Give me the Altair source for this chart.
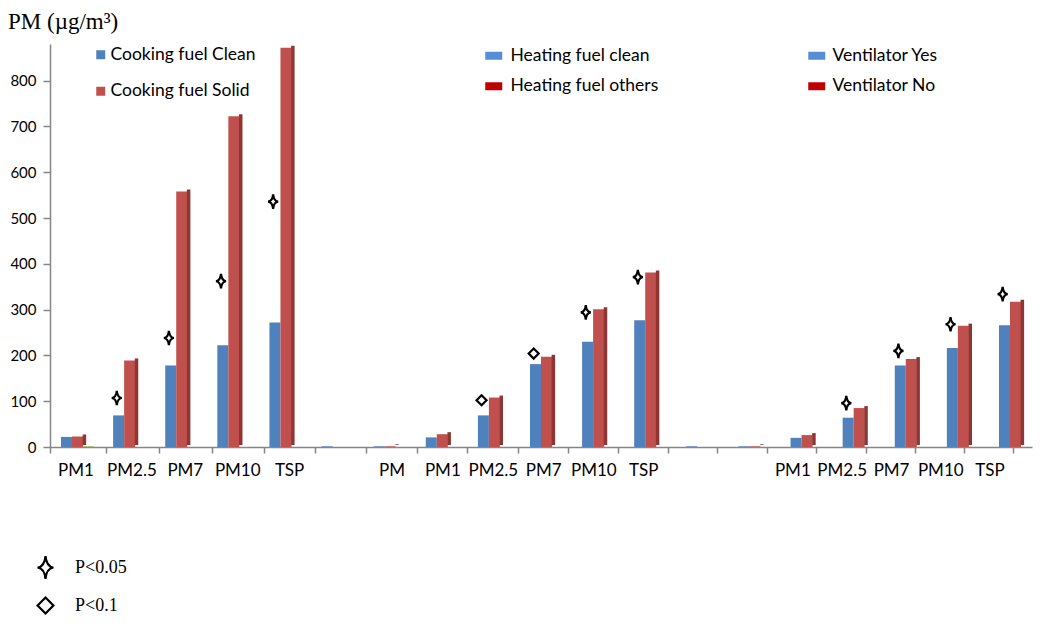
import altair as alt
import pandas as pd

# ---------------- data ----------------
slot_labels = ["PM1", "PM2.5", "PM7", "PM10", "TSP", "", "PM", "PM1", "PM2.5", "PM7",
               "PM10", "TSP", "", "", "PM1", "PM2.5", "PM7", "PM10", "TSP"]
blue_values = [22, 69, 178, 222, 272, 1.5, 1.5, 21, 69, 181,
               230, 277, 1.5, 1.5, 20, 64, 178, 216, 266]
red_values = [23, 189, 558, 722, 872, 0, 1.5, 28, 108, 197,
              301, 381, 0, 1.5, 26, 85, 192, 265, 317]
green_values = [1.5, 0, 0, 0, 0, 0, 0, 0, 0, 0,
                0, 0, 0, 0, 0, 0, 0, 0, 0]

marker_slots = [2, 3, 4, 5, 9, 10, 11, 12, 16, 17, 18, 19]
marker_values = [107, 238, 362, 536, 102, 204, 294, 371, 96, 210, 268, 334]
marker_sig = ["P<0.05", "P<0.05", "P<0.05", "P<0.05", "P<0.1", "P<0.1",
              "P<0.05", "P<0.05", "P<0.05", "P<0.05", "P<0.05", "P<0.05"]
sig_levels = ["P<0.05", "P<0.1"]

cooking_labels = ["Cooking fuel Clean", "Cooking fuel Solid"]
heating_labels = ["Heating fuel clean", "Heating fuel others"]
vent_labels = ["Ventilator Yes", "Ventilator No"]

y_ticks = [0, 100, 200, 300, 400, 500, 600, 700, 800]

# ---------------- styles ----------------
series_codes = ["A", "B", "C"]
bar_colors = ["#4F81BD", "#C0504D", "#9BBB59"]
side_color = "#8E3634"
cook_colors = ["#4F81BD", "#C0504D"]
other_colors = ["#558ED5", "#C00000"]
axis_grey = "#868686"
FONT = "Lato"

STAR = "M0,-1.45 Q0.12,-0.12 1,0 Q0.12,0.12 0,1.45 Q-0.12,0.12 -1,0 Q-0.12,-0.12 0,-1.45 Z"
RECT = "M-1,-0.47 L1,-0.47 L1,0.47 L-1,0.47 Z"

slot_keys = [f"s{i:02d}" for i in range(1, len(slot_labels) + 1)]

rows = []
for key, b, r, g in zip(slot_keys, blue_values, red_values, green_values):
    rows.append({"slot": key, "series": "A", "value": b})
    rows.append({"slot": key, "series": "B", "value": r})
    rows.append({"slot": key, "series": "C", "value": g})
bar_df = pd.DataFrame(rows)

marker_df = pd.DataFrame({
    "slot": [slot_keys[i - 1] for i in marker_slots],
    "pos": ["A"] * len(marker_slots),
    "value": marker_values,
    "sig": marker_sig,
})

boundary_df = pd.DataFrame({"b": list(range(len(slot_labels) + 1))})
labels_js = "[" + ",".join("'" + s + "'" for s in slot_labels + [""]) + "]"

x_band = alt.Scale(domain=slot_keys, paddingInner=0.155, paddingOuter=0)
xoff_scale = alt.Scale(domain=["_", "A", "B", "C"], paddingInner=0, paddingOuter=0)
fine_slots = [f"p{k}" for k in range(16)]
side_xoff_scale = alt.Scale(domain=fine_slots, paddingInner=0, paddingOuter=0)
y_scale = alt.Scale(domain=[0, 880], nice=False, zero=True)

y_axis = alt.Axis(values=y_ticks, tickSize=7, domainColor=axis_grey, tickColor=axis_grey,
                  domainWidth=1.5, tickWidth=1.5, labelFont=FONT, labelFontSize=15,
                  labelColor="#000000", labelPadding=7, grid=False, title=None)

bars = alt.Chart(bar_df).mark_bar().encode(
    x=alt.X("slot:N", scale=x_band, axis=None),
    xOffset=alt.XOffset("series:N", scale=xoff_scale),
    y=alt.Y("value:Q", scale=y_scale, axis=y_axis),
    color=alt.Color("series:N", scale=alt.Scale(domain=series_codes, range=bar_colors), legend=None),
)

# darker side face of the red bars (3-D look)
side = alt.Chart(bar_df).transform_filter("datum.series == 'B'").transform_calculate(
    face="'p12'"
).mark_bar(width=3.5, yOffset=-2, color=side_color).encode(
    x=alt.X("slot:N", scale=x_band, axis=None),
    xOffset=alt.XOffset("face:N", scale=side_xoff_scale),
    y=alt.Y("value:Q", scale=y_scale),
)

markers = alt.Chart(marker_df).mark_point(
    filled=False, color="black", strokeWidth=2.2, size=100, opacity=1
).encode(
    x=alt.X("slot:N", scale=x_band, axis=None),
    xOffset=alt.XOffset("pos:N", scale=xoff_scale),
    y=alt.Y("value:Q", scale=y_scale),
    shape=alt.Shape("sig:N", scale=alt.Scale(domain=sig_levels, range=[STAR, "diamond"]),
                    legend=alt.Legend(orient="none", legendX=-14, legendY=514, title=None,
                                      symbolSize=250, symbolStrokeWidth=2.2,
                                      symbolStrokeColor="black",
                                      labelFont="Liberation Serif", labelFontSize=18,
                                      labelColor="#000000", labelOffset=20, rowPadding=9,
                                      padding=0)),
)

x_axis_layer = alt.Chart(boundary_df).mark_point(size=0, opacity=0).encode(
    x=alt.X("b:Q",
            scale=alt.Scale(type="pow", exponent=0.9665, domain=[0, 19.39], nice=False, zero=False),
            axis=alt.Axis(values=list(range(len(slot_labels) + 1)),
                          labelExpr=labels_js + "[datum.value]",
                          labelOffset=25.5, labelFlush=False, labelOverlap=False, labelBound=False,
                          tickSize=6, domainColor=axis_grey, tickColor=axis_grey,
                          domainWidth=1.5, tickWidth=1.5,
                          labelFont=FONT, labelFontSize=17, labelColor="#000000",
                          labelPadding=9, grid=False, title=None)),
    y=alt.value(0),
)


def legend_layer(labels, colors, lx, ly, shape, size, row_pad, lab_off):
    return alt.Chart(pd.DataFrame({"k": labels})).mark_square(size=0, opacity=1).encode(
        color=alt.Color("k:N", scale=alt.Scale(domain=labels, range=colors),
                        legend=alt.Legend(orient="none", legendX=lx, legendY=ly, title=None,
                                          symbolType=shape, symbolSize=size, symbolStrokeWidth=0,
                                          symbolOpacity=1,
                                          labelFont=FONT, labelFontSize=17.5,
                                          labelColor="#000000", labelOffset=lab_off,
                                          rowPadding=row_pad, padding=0))
    )


leg1 = legend_layer(cooking_labels, cook_colors, 42, 2, "square", 81, 17.5, 1)
leg2 = legend_layer(heating_labels, other_colors, 435, 3, RECT, 289, 11.5, 8)
leg3 = legend_layer(vent_labels, other_colors, 758, 3, RECT, 289, 11.5, 7)

chart = alt.layer(bars, side, markers, x_axis_layer, leg1, leg2, leg3).resolve_scale(
    x="independent", xOffset="independent", color="independent", shape="independent"
).properties(
    width=982,
    height=403,
    background="white",
    padding={"left": 42, "top": 36, "right": 10, "bottom": 170},
    autosize=alt.AutoSizeParams(type="none"),
    title=alt.TitleParams("PM (µg/m³)", anchor="start", frame="group", dx=-42, offset=10,
                          font="Liberation Serif", fontSize=23, fontWeight="normal",
                          color="#000000"),
).configure_view(stroke=None)

chart.save("out.html", embed_options={"renderer": "svg", "actions": False})
